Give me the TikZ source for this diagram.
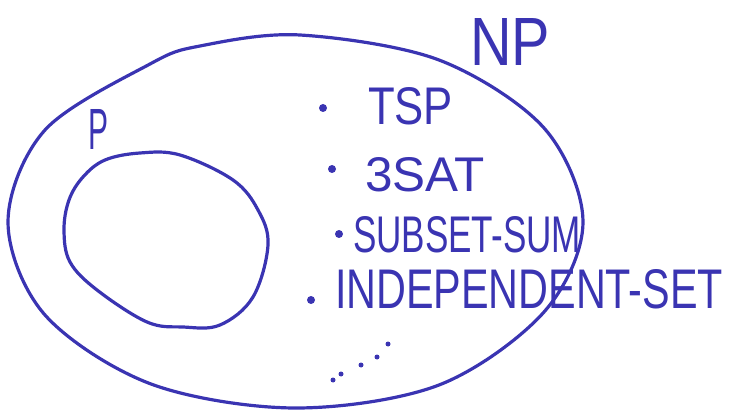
\documentclass[tikz,border=0pt]{standalone}
\usepackage{fontspec}
\usepackage{graphicx}
\setmainfont{Liberation Sans}
\definecolor{ink}{RGB}{58,52,178}
\begin{document}
\begin{tikzpicture}[x=1pt,y=-1pt,
  pen/.style={draw=ink,line width=3.2pt,line join=round,line cap=round},
  lbl/.style={anchor=south west,inner sep=0pt,outer sep=0pt,text=ink},
  bullet/.style={circle,fill=ink,inner sep=0pt,minimum size=8pt},
  speck/.style={circle,fill=ink,inner sep=0pt,minimum size=5pt}]
\useasboundingbox (0,0) rectangle (735,411);
% NP set
\draw[pen] plot[smooth cycle,tension=0.55] coordinates {
 (583,222) (544,128) (439,60) (300,35) (200,46) (150,64)
 (45,130) (8,222) (45,315) (151,384) (295,408) (439,385) (544,312)};
% P set
\draw[pen] plot[smooth cycle,tension=0.6] coordinates {
 (64,230) (69,200) (83,177) (105,160) (140,153) (180,155) (233,180)
 (258,210) (268,245) (253,297) (220,325) (183,327) (147,322) (97,290) (70,262)};
% labels
\node[lbl] (np) at (470,66) {\resizebox{80pt}{47pt}{NP}};
\node[lbl] (p) at (88,150) {\resizebox{20pt}{40pt}{P}};
\node[lbl] (tsp) at (368,125) {\resizebox{85pt}{37pt}{TSP}};
\node[lbl] (sat) at (365,192) {\resizebox{120pt}{34pt}{3SAT}};
\node[lbl] (sub) at (353,253) {\resizebox{228pt}{36pt}{SUBSET-SUM}};
\node[lbl] (ind) at (335,309) {\resizebox{388pt}{39pt}{INDEPENDENT-SET}};
% bullets
\node[bullet] (b1) at (323,108) {};
\node[bullet] (b2) at (332,169) {};
\node[bullet] (b3) at (339,234) {};
\node[bullet] (b4) at (311,300) {};
% ellipsis
\node[speck] (e1) at (333,380) {};
\node[speck] (e2) at (341,374) {};
\node[speck] (e3) at (361,365) {};
\node[speck] (e4) at (377,357) {};
\node[speck] (e5) at (388,344) {};
\end{tikzpicture}
\end{document}
